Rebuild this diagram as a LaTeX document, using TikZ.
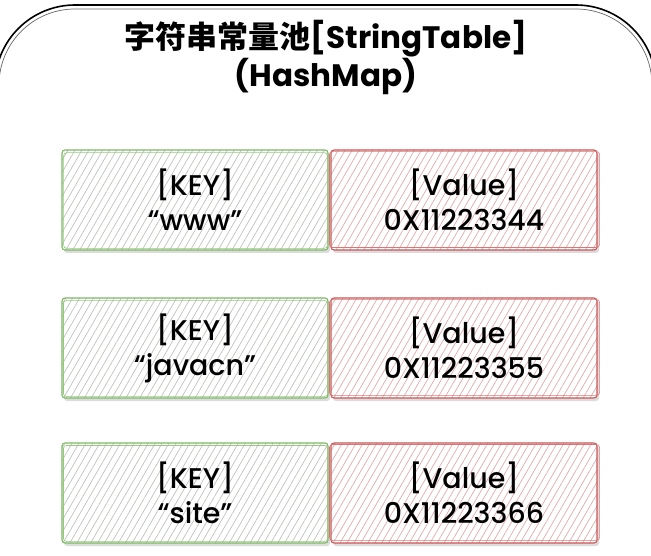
\documentclass[tikz,border=0pt]{standalone}
\usepackage{fontspec}
\setmainfont{Poppins}
\newfontfamily\cellfont{Poppins}[UprightFont=* Medium]
\newfontfamily\cjk{Noto Sans CJK SC}
\usetikzlibrary{patterns.meta,calc}
\definecolor{keygreen}{RGB}{125,185,100}
\definecolor{valred}{RGB}{205,85,85}
\definecolor{khatch}{RGB}{190,196,188}
\definecolor{vhatch}{RGB}{228,170,170}
\tikzset{
  cell/.style={minimum width=266pt, minimum height=100pt, inner sep=0pt, align=center,
    font=\cellfont\fontsize{28.5}{35}\selectfont, line width=1.1pt, rounded corners=3pt,
    preaction={fill=black!30, opacity=0.45, transform canvas={shift={(2pt,-3pt)}}},
    preaction={fill=white}},
  kbox/.style={cell, draw=keygreen, pattern={Lines[angle=60,distance=6pt,line width=0.7pt]}, pattern color=khatch},
  vbox/.style={cell, draw=valred, pattern={Lines[angle=60,distance=6pt,line width=0.7pt]}, pattern color=vhatch},
  sketchk/.style={draw=keygreen!80, line width=0.6pt, rounded corners=3pt},
  sketchv/.style={draw=valred!80, line width=0.6pt, rounded corners=3pt},
}
\begin{document}
\begin{tikzpicture}[x=1pt,y=-1pt]
\useasboundingbox (0,0) rectangle (651,556);
\fill[white] (0,0) rectangle (651,556);
\begin{scope}
\clip (0,0) rectangle (651,556);
\draw[line width=1.6pt, rounded corners=80pt] (-5,620) -- (-5,5) -- (656,5) -- (656,620);
\draw[line width=0.7pt, black!60, rounded corners=76pt] (-1,620) -- (-1,9) -- (652,9) -- (652,620);
\end{scope}
\node[font=\bfseries\fontsize{31}{38}\selectfont, align=center] (title) at (326,57)
  {{\cjk\bfseries 字符串常量池}[StringTable]\\(HashMap)};
% row 1
\node[kbox] (k1) at (195,200) {[KEY]\\“www”};
\node[vbox] (v1) at (464,200) {[Value]\\0X11223344};
% row 2
\node[kbox] (k2) at (195,348) {[KEY]\\“javacn”};
\node[vbox] (v2) at (464,348) {[Value]\\0X11223355};
% row 3
\node[kbox] (k3) at (195,493) {[KEY]\\“site”};
\node[vbox] (v3) at (464,493) {[Value]\\0X11223366};
\foreach \n in {k1,k2,k3}{
  \draw[sketchk] ($(\n.south west)+(2,-2)$) rectangle ($(\n.north east)+(-1,3)$);
}
\foreach \n in {v1,v2,v3}{
  \draw[sketchv] ($(\n.south west)+(-1,-3)$) rectangle ($(\n.north east)+(2,2)$);
}
\end{tikzpicture}
\end{document}
